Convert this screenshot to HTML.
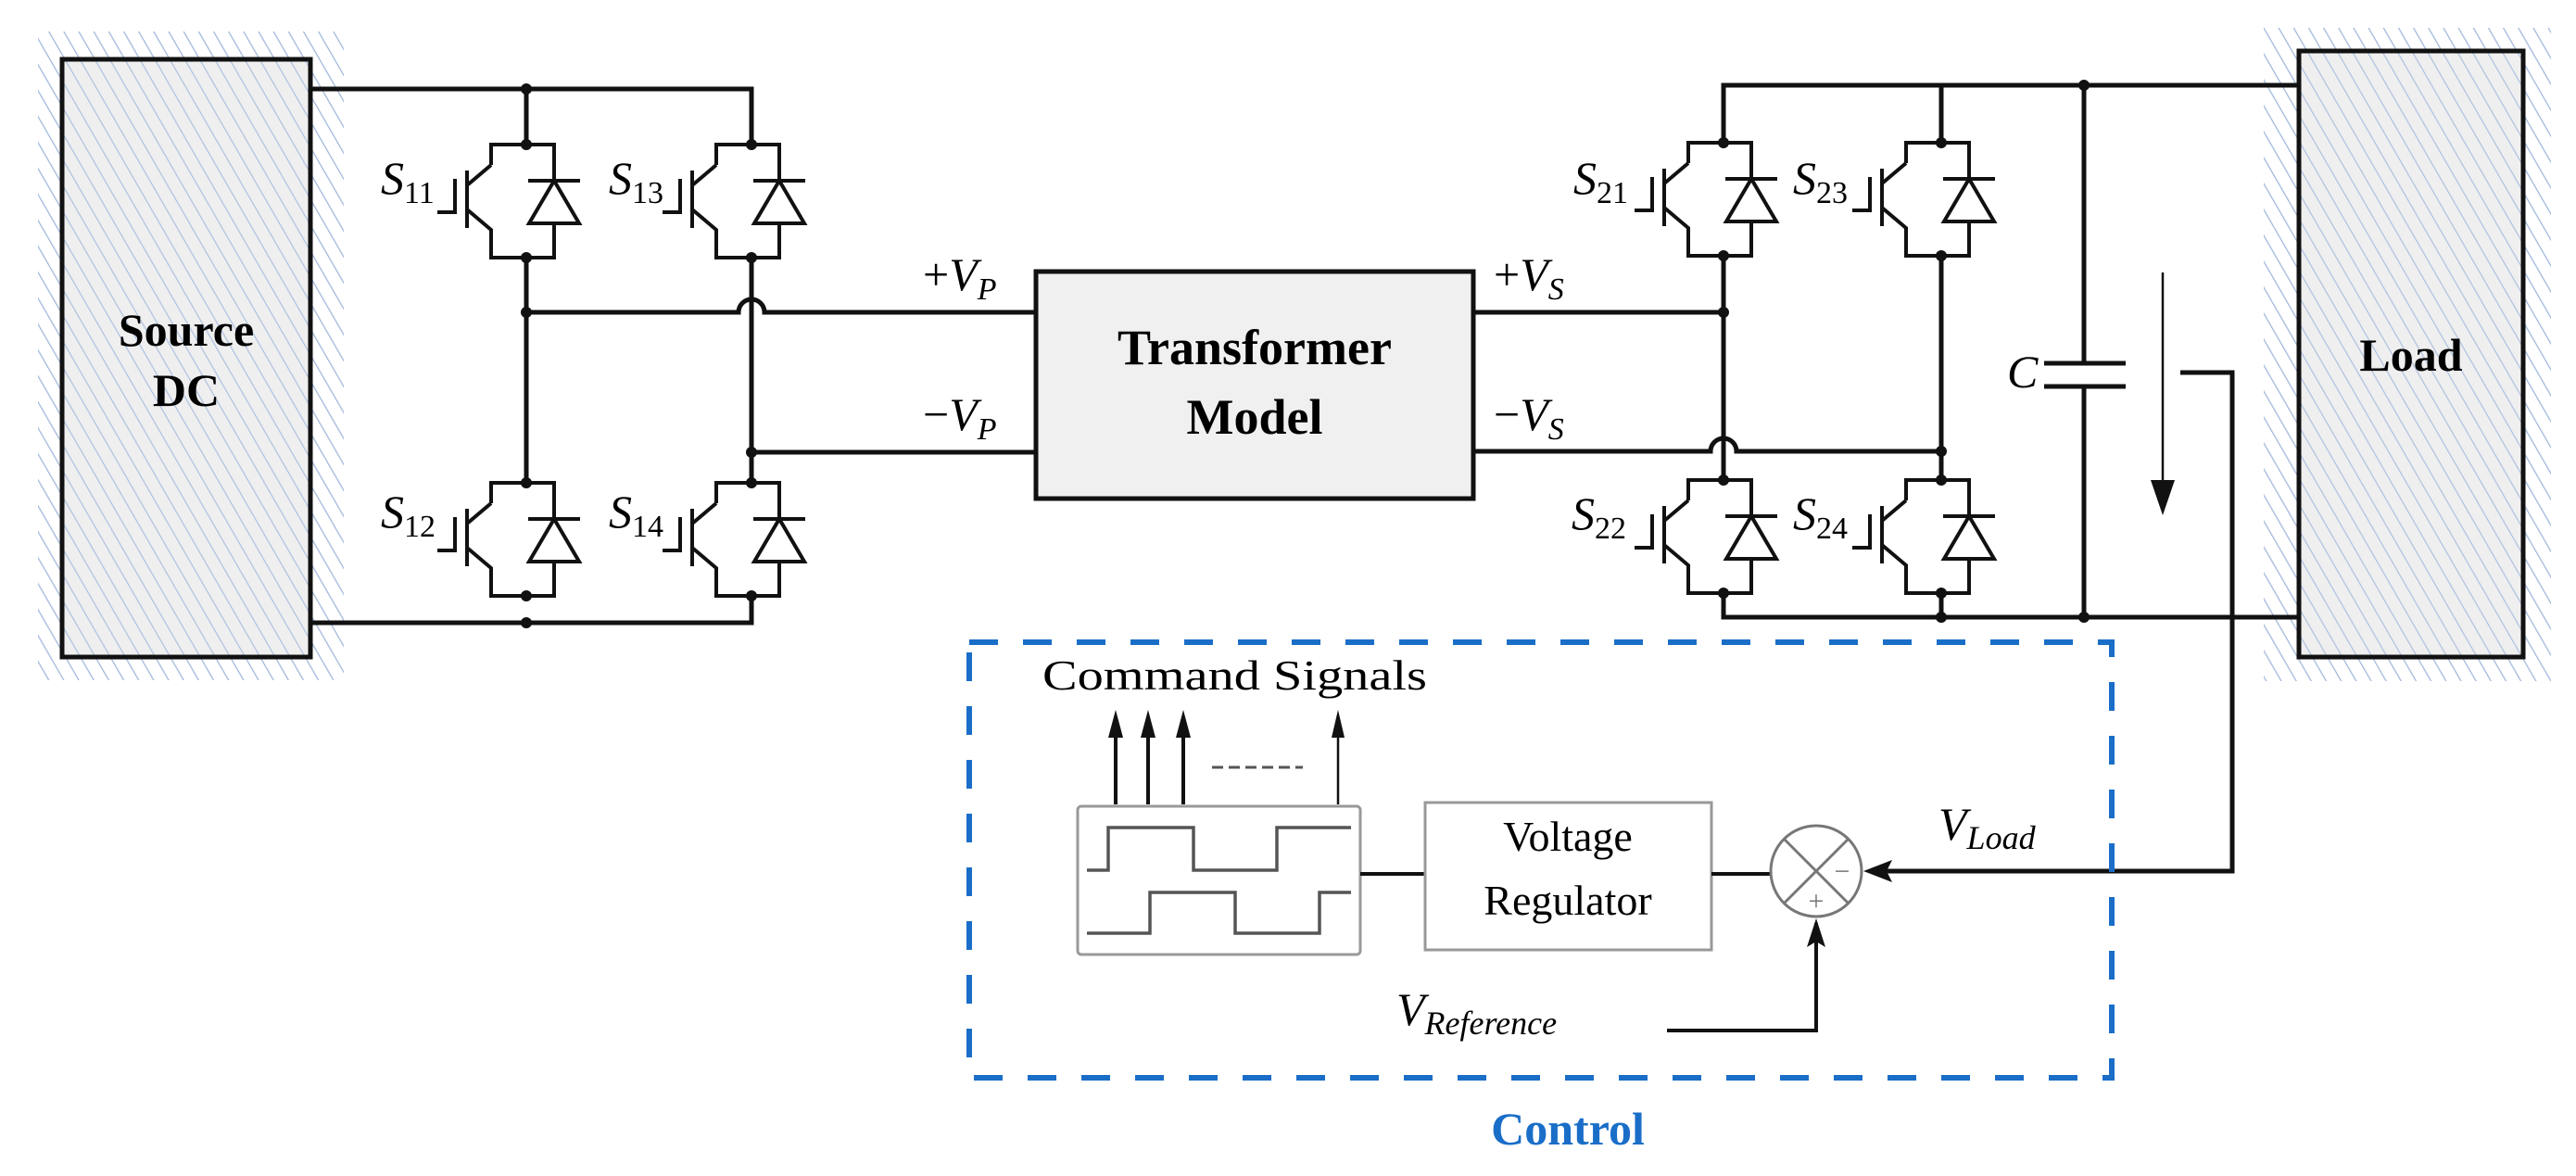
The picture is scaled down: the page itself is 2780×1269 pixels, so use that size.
<!DOCTYPE html>
<html><head><meta charset="utf-8"><style>
html,body{margin:0;padding:0;background:#fff;}
svg{display:block;}
.t{font-family:"Liberation Serif",serif;}
</style></head><body>
<svg width="2780" height="1269" viewBox="0 0 2780 1269" xmlns="http://www.w3.org/2000/svg">
<defs>
<pattern id="h" patternUnits="userSpaceOnUse" width="14" height="14" patternTransform="rotate(-30)">
<line x1="0" y1="0" x2="0" y2="14" stroke="#9fb6dc" stroke-width="2.5"/>
</pattern>
<g id="sw" stroke="#111" stroke-width="4" fill="none">
<path d="M-38,22 V0 H30 V122 H-38 V92 L-64,70"/>
<path d="M-38,22 L-64,44"/>
<line x1="-64" y1="28" x2="-64" y2="90"/>
<path d="M-77,37 V75 M-77,73 H-96"/>
<line x1="2" y1="39" x2="58" y2="39"/>
<path d="M30,39 L3,85 H57 Z" fill="#fff"/>
<circle cx="0" cy="0" r="6" fill="#111" stroke="none"/>
<circle cx="0" cy="122" r="6" fill="#111" stroke="none"/>
</g>
</defs>

<rect x="41" y="34" width="330" height="700" fill="url(#h)"/>
<rect x="67" y="64" width="268" height="645" fill="#efefef"/>
<rect x="67" y="64" width="268" height="645" fill="url(#h)" opacity="0.8"/>
<rect x="67" y="64" width="268" height="645" fill="none" stroke="#111" stroke-width="5"/>
<text class="t" x="201" y="373" font-size="50" font-weight="bold" text-anchor="middle">Source</text>
<text class="t" x="201" y="438" font-size="50" font-weight="bold" text-anchor="middle">DC</text>

<rect x="2443" y="30" width="310" height="705" fill="url(#h)"/>
<rect x="2481" y="55" width="242" height="654" fill="#efefef"/>
<rect x="2481" y="55" width="242" height="654" fill="url(#h)" opacity="0.8"/>
<rect x="2481" y="55" width="242" height="654" fill="none" stroke="#111" stroke-width="5"/>
<text class="t" x="2602" y="400" font-size="50" font-weight="bold" text-anchor="middle">Load</text>

<g stroke="#111" stroke-width="5" fill="none">
<path d="M335,96 H811 V156"/>
<path d="M568,96 V156"/>
<path d="M335,672 H811 V643"/>
<path d="M568,278 V519"/>
<path d="M811,278 V519"/>
<path d="M568,337 H797 A14,14 0 0 1 825,337 H1118"/>
<path d="M811,488 H1118"/>
<path d="M1860,154 V92 H2481"/>
<path d="M2095,92 V154"/>
<path d="M1860,278 V516"/>
<path d="M2095,278 V516"/>
<path d="M1860,640 V666 H2481"/>
<path d="M2095,640 V666"/>
<path d="M1590,337 H1860"/>
<path d="M1590,487 H1846 A14,14 0 0 1 1874,487 H2095"/>
<path d="M2249,92 V392 M2206,392 H2294 M2206,417 H2294 M2249,417 V666"/>
<path d="M2353,402 H2409 V940 H2022"/>
</g>
<g fill="#111">
<circle cx="568" cy="96" r="6"/><circle cx="568" cy="337" r="6"/><circle cx="568" cy="672" r="6"/>
<circle cx="811" cy="488" r="6"/>
<circle cx="2249" cy="92" r="6"/><circle cx="2249" cy="666" r="6"/><circle cx="2095" cy="666" r="6"/>
<circle cx="1860" cy="337" r="6"/><circle cx="2095" cy="487" r="6"/>
</g>
<use href="#sw" x="568" y="156"/>
<use href="#sw" x="811" y="156"/>
<use href="#sw" x="568" y="521"/>
<use href="#sw" x="811" y="521"/>
<use href="#sw" x="1860" y="154"/>
<use href="#sw" x="2095" y="154"/>
<use href="#sw" x="1860" y="518"/>
<use href="#sw" x="2095" y="518"/>

<g class="t" font-style="italic" font-size="50">
<text x="411" y="209">S<tspan font-size="34" font-style="normal" dy="10">11</tspan></text>
<text x="657" y="209">S<tspan font-size="34" font-style="normal" dy="10">13</tspan></text>
<text x="411" y="569">S<tspan font-size="34" font-style="normal" dy="10">12</tspan></text>
<text x="657" y="569">S<tspan font-size="34" font-style="normal" dy="10">14</tspan></text>
<text x="1698" y="209">S<tspan font-size="34" font-style="normal" dy="10">21</tspan></text>
<text x="1935" y="209">S<tspan font-size="34" font-style="normal" dy="10">23</tspan></text>
<text x="1696" y="571">S<tspan font-size="34" font-style="normal" dy="10">22</tspan></text>
<text x="1935" y="571">S<tspan font-size="34" font-style="normal" dy="10">24</tspan></text>
<text x="2166" y="418">C</text>
</g>

<line x1="2334" y1="294" x2="2334" y2="525" stroke="#111" stroke-width="2.5"/>
<path d="M2321,518 L2347,518 L2334,556 Z" fill="#111"/>

<rect x="1118" y="293" width="472" height="245" fill="#f0f0f0" stroke="#111" stroke-width="5"/>
<text class="t" x="1354" y="393" font-size="54" font-weight="bold" text-anchor="middle">Transformer</text>
<text class="t" x="1354" y="468" font-size="54" font-weight="bold" text-anchor="middle">Model</text>
<g class="t" font-size="50">
<text x="996" y="313">+<tspan font-style="italic">V</tspan><tspan font-style="italic" font-size="34" dy="10">P</tspan></text>
<text x="996" y="464">−<tspan font-style="italic">V</tspan><tspan font-style="italic" font-size="34" dy="10">P</tspan></text>
<text x="1612" y="313">+<tspan font-style="italic">V</tspan><tspan font-style="italic" font-size="34" dy="10">S</tspan></text>
<text x="1612" y="464">−<tspan font-style="italic">V</tspan><tspan font-style="italic" font-size="34" dy="10">S</tspan></text>
</g>

<rect x="1046" y="693" width="1233" height="470" fill="none" stroke="#1a6ec8" stroke-width="6" stroke-dasharray="31,27"/>
<text class="t" x="1692" y="1235" font-size="50" font-weight="bold" fill="#1a6ec8" text-anchor="middle">Control</text>
<text class="t" x="1125" y="744" font-size="46" textLength="415" lengthAdjust="spacingAndGlyphs">Command Signals</text>

<g stroke="#111" stroke-width="4">
<line x1="1204" y1="868" x2="1204" y2="790"/>
<line x1="1239" y1="868" x2="1239" y2="790"/>
<line x1="1277" y1="868" x2="1277" y2="790"/>
<line x1="1444" y1="868" x2="1444" y2="790" stroke-width="2.5"/>
<line x1="1308" y1="828" x2="1406" y2="828" stroke-width="3" stroke="#555" stroke-dasharray="12,6"/>
</g>
<g fill="#111">
<path d="M1196,796 L1212,796 L1204,766 Z"/>
<path d="M1231,796 L1247,796 L1239,766 Z"/>
<path d="M1269,796 L1285,796 L1277,766 Z"/>
<path d="M1437,796 L1451,796 L1444,766 Z"/>
</g>

<rect x="1163" y="870" width="305" height="160" rx="4" fill="#fff" stroke="#999" stroke-width="3"/>
<path d="M1173,939 H1196 V893 H1288 V939 H1378 V893 H1458" fill="none" stroke="#555" stroke-width="3.5"/>
<path d="M1173,1007 H1241 V963 H1333 V1007 H1424 V963 H1458" fill="none" stroke="#555" stroke-width="3.5"/>

<line x1="1468" y1="943" x2="1538" y2="943" stroke="#111" stroke-width="4"/>
<rect x="1538" y="866" width="309" height="159" fill="#fff" stroke="#999" stroke-width="3"/>
<text class="t" x="1692" y="918" font-size="46" text-anchor="middle">Voltage</text>
<text class="t" x="1692" y="987" font-size="46" text-anchor="middle">Regulator</text>
<line x1="1847" y1="943" x2="1911" y2="943" stroke="#111" stroke-width="4"/>

<circle cx="1960" cy="940" r="49" fill="#fff" stroke="#777" stroke-width="3"/>
<path d="M1925,905 L1995,975 M1995,905 L1925,975" stroke="#777" stroke-width="3"/>
<text class="t" x="1988" y="950" font-size="30" fill="#777" text-anchor="middle">−</text>
<text class="t" x="1960" y="982" font-size="30" fill="#777" text-anchor="middle">+</text>
<path d="M2011,940 L2042,928 L2036,940 L2042,952 Z" fill="#111"/>
<path d="M1799,1112 H1960 V996" fill="none" stroke="#111" stroke-width="4"/>
<path d="M1960,991 L1950,1022 L1960,1016 L1970,1022 Z" fill="#111"/>

<g class="t" font-style="italic">
<text x="2092" y="906" font-size="50">V<tspan font-size="36" dy="10">Load</tspan></text>
<text x="1507" y="1106" font-size="50">V<tspan font-size="36" dy="10">Reference</tspan></text>
</g>
</svg>
</body></html>
